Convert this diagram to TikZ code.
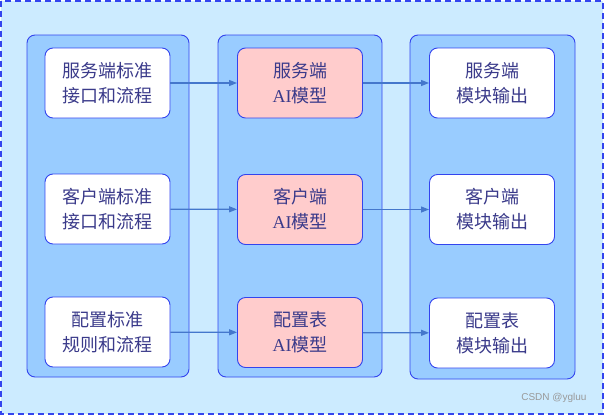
\documentclass[tikz,border=0pt]{standalone}
\usepackage{fontspec}
\newfontfamily\cjk{Noto Sans CJK SC}
\setmainfont{Liberation Serif}
\usetikzlibrary{arrows.meta}
\definecolor{bgblue}{HTML}{CCEBFF}
\definecolor{colblue}{HTML}{99CCFF}
\definecolor{edgeblue}{HTML}{3344EE}
\definecolor{pinkbox}{HTML}{FFCCCC}
\definecolor{txt}{HTML}{3A3A8A}
\definecolor{arr}{HTML}{4477CC}
\tikzset{
  column/.style={draw=edgeblue, fill=colblue, rounded corners=8pt, line width=0.9pt},
  item/.style={draw=edgeblue, fill=white, rounded corners=8pt, line width=0.9pt,
    minimum width=125pt, minimum height=70pt, align=center, text=txt,
    font=\fontsize{18pt}{25pt}\selectfont\cjk, inner sep=0pt},
  aibox/.style={item, fill=pinkbox},
  link/.style={draw=arr, line width=1.2pt, -{Triangle[length=8pt,width=6pt]}}
}
\begin{document}
\begin{tikzpicture}[x=1pt,y=-1pt]
\useasboundingbox (0,0) rectangle (604,415);
\draw[fill=bgblue, draw=edgeblue, dashed, dash pattern=on 6pt off 4pt, line width=1.2pt] (1,1) rectangle (603,414);
\draw[column] (27,35) rectangle (189,377);
\draw[column] (218,35) rectangle (382,377);
\draw[column] (410,35) rectangle (575,379);
\node[item] (l1) at (107.5,83) {服务端标准\\接口和流程};
\node[item] (l2) at (107.5,209) {客户端标准\\接口和流程};
\node[item] (l3) at (107.5,332) {配置标准\\规则和流程};
\node[aibox] (m1) at (300,83) {服务端\\{\rmfamily AI}模型};
\node[aibox] (m2) at (300,209.5) {客户端\\{\rmfamily AI}模型};
\node[aibox] (m3) at (300,332.5) {配置表\\{\rmfamily AI}模型};
\node[item] (r1) at (492,83) {服务端\\模块输出};
\node[item] (r2) at (492,209.5) {客户端\\模块输出};
\node[item] (r3) at (492,333) {配置表\\模块输出};
\draw[link] (l1) -- (m1);
\draw[link] (l2) -- (m2);
\draw[link] (l3) -- (m3);
\draw[link] (m1) -- (r1);
\draw[link] (m2) -- (r2);
\draw[link] (m3) -- (r3);
\node[text=gray!80, font=\fontsize{10pt}{11pt}\selectfont\fontspec{Liberation Sans}, anchor=east] (wm) at (590,398) {CSDN @ygluu};
\end{tikzpicture}
\end{document}
